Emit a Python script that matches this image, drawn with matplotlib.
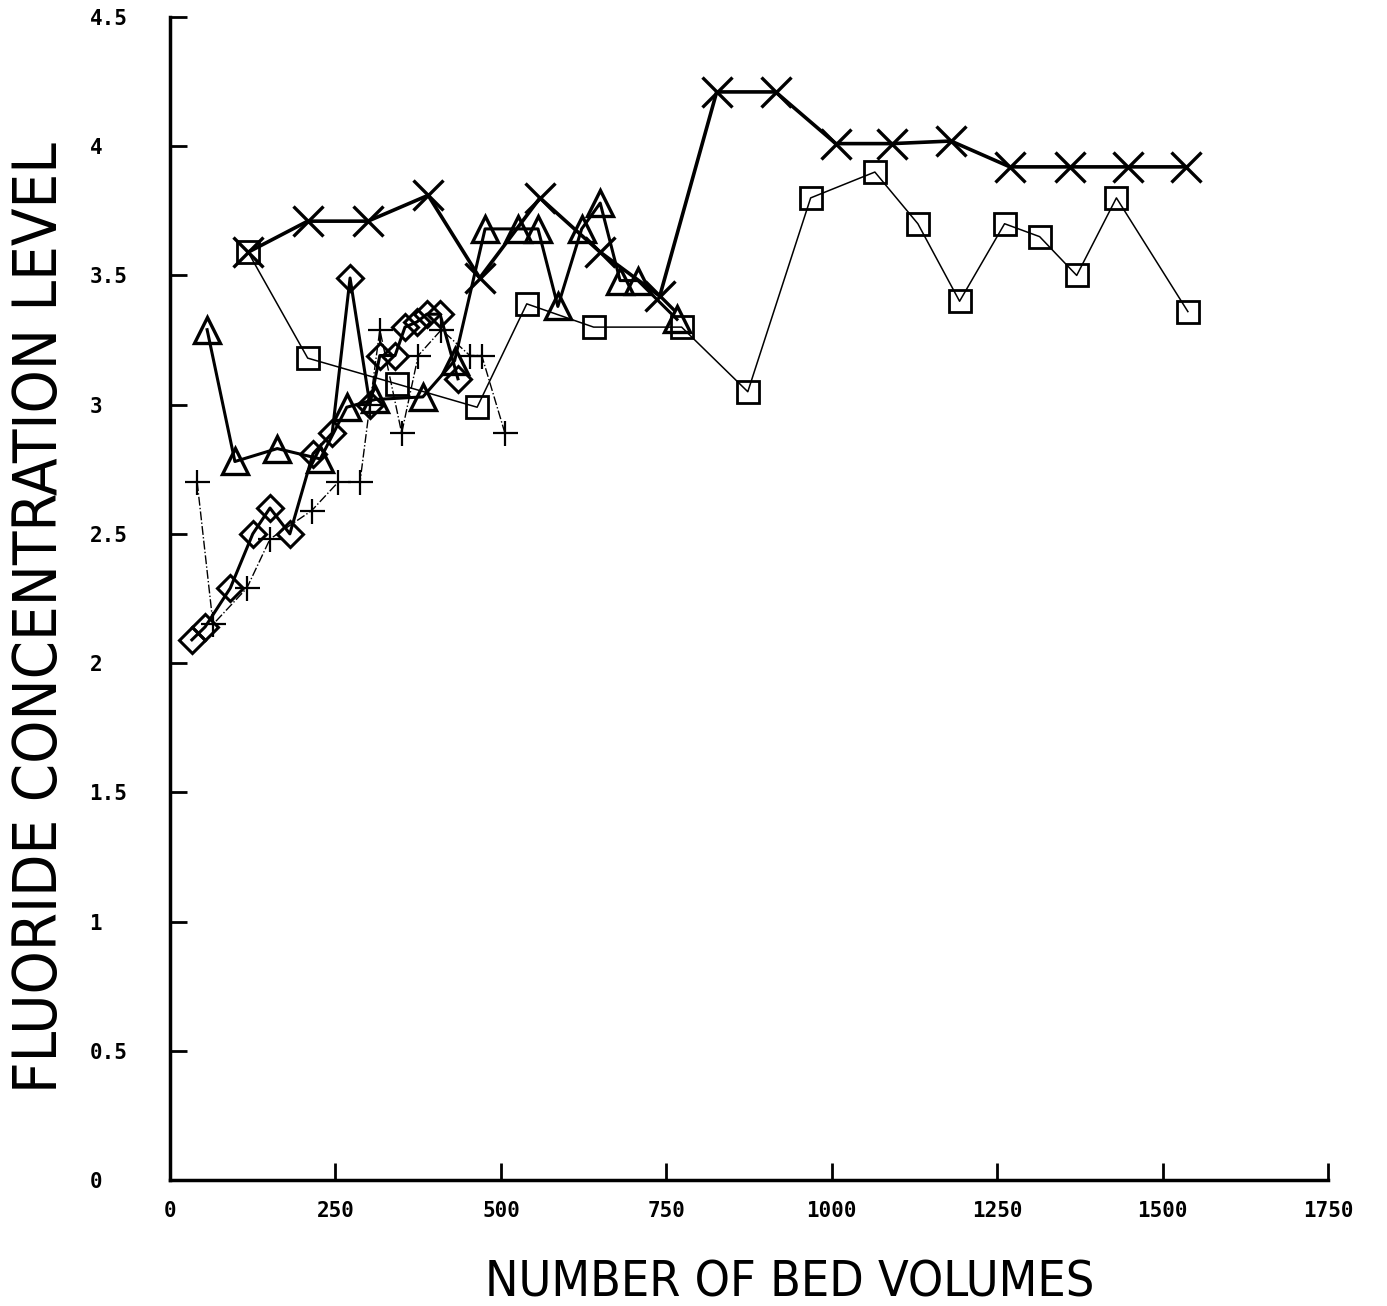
import matplotlib
matplotlib.use("Agg")
import matplotlib.pyplot as plt

# cross series (heavy line)
x_cross = [118, 208, 299, 390, 468, 559, 650, 740, 826, 915, 1006, 1091, 1180, 1269, 1360, 1447, 1535]
y_cross = [3.59, 3.71, 3.71, 3.81, 3.49, 3.80, 3.59, 3.42, 4.21, 4.21, 4.01, 4.01, 4.02, 3.92, 3.92, 3.92, 3.92]

# square series (thin line)
x_square = [118, 208, 343, 464, 539, 640, 773, 873, 968, 1065, 1130, 1193, 1261, 1314, 1370, 1430, 1538]
y_square = [3.59, 3.18, 3.08, 2.99, 3.39, 3.30, 3.30, 3.05, 3.80, 3.90, 3.70, 3.40, 3.70, 3.65, 3.50, 3.80, 3.36]

# triangle series (heavy line)
x_tri = [56, 98, 162, 227, 267, 310, 382, 430, 476, 526, 556, 586, 622, 650, 680, 707, 766]
y_tri = [3.29, 2.78, 2.83, 2.79, 2.99, 3.02, 3.03, 3.17, 3.68, 3.68, 3.68, 3.38, 3.68, 3.78, 3.48, 3.48, 3.33]

# diamond series (heavy line)
x_dia = [33, 53, 91, 125, 151, 181, 216, 245, 272, 302, 317, 340, 355, 373, 388, 408, 435]
y_dia = [2.09, 2.14, 2.29, 2.50, 2.60, 2.50, 2.81, 2.89, 3.49, 3.00, 3.19, 3.19, 3.30, 3.32, 3.35, 3.35, 3.10]

# plus series (dash-dot line)
x_plus = [41, 65, 116, 151, 214, 254, 287, 302, 317, 350, 375, 410, 453, 471, 506]
y_plus = [2.70, 2.15, 2.29, 2.48, 2.59, 2.70, 2.70, 3.00, 3.29, 2.89, 3.19, 3.29, 3.19, 3.19, 2.89]

x_ticks = [0, 250, 500, 750, 1000, 1250, 1500, 1750]
y_ticks = [0, 0.5, 1, 1.5, 2, 2.5, 3, 3.5, 4, 4.5]
y_ticklabels = ["0", "0.5", "1", "1.5", "2", "2.5", "3", "3.5", "4", "4.5"]

fig = plt.figure(figsize=(13.87, 13.06), dpi=100)
ax = fig.add_axes([0.1226, 0.0965, 0.835, 0.8905])

ax.plot(x_plus, y_plus, color="black", lw=1.0, ls="-.", marker="+",
        markersize=18, mew=1.6)
ax.plot(x_square, y_square, color="black", lw=1.1, marker="s",
        markersize=16, mfc="none", mew=2)
ax.plot(x_dia, y_dia, color="black", lw=2.2, marker="D",
        markersize=13, mfc="none", mew=2.2)
ax.plot(x_tri, y_tri, color="black", lw=2.2, marker="^",
        markersize=19, mfc="none", mew=2.4)
ax.plot(x_cross, y_cross, color="black", lw=2.6, marker="x",
        markersize=21, mew=2.4)

ax.set_xlim(0, 1750)
ax.set_ylim(0, 4.5)
ax.spines["top"].set_visible(False)
ax.spines["right"].set_visible(False)
ax.spines["left"].set_linewidth(2.5)
ax.spines["bottom"].set_linewidth(2.5)

ax.set_xticks(x_ticks)
ax.set_xticklabels([str(t) for t in x_ticks], family="DejaVu Sans Mono",
                   fontweight="bold", fontsize=15)
ax.set_yticks(y_ticks)
ax.set_yticklabels(y_ticklabels, family="DejaVu Sans Mono",
                   fontweight="bold", fontsize=15, ha="left")
ax.tick_params(axis="x", direction="in", length=12, width=2, pad=15)
ax.tick_params(axis="y", direction="in", length=12, width=2, pad=58)

fig.text(0.029, 0.527, "FLUORIDE CONCENTRATION LEVEL", rotation=90,
         ha="center", va="center", fontsize=44, family="DejaVu Sans",
         fontstretch="condensed")
fig.text(0.569, 0.018, "NUMBER OF BED VOLUMES", ha="center", va="center",
         fontsize=36, family="DejaVu Sans", fontstretch="condensed")

fig.savefig("out.png", dpi=100, facecolor="white")
